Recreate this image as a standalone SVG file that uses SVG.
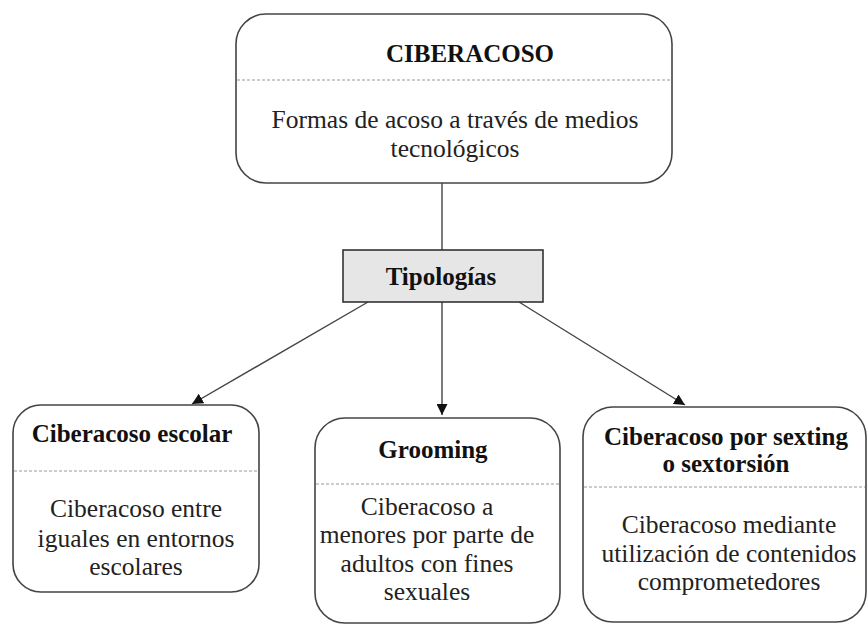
<svg xmlns="http://www.w3.org/2000/svg" width="868" height="625" viewBox="0 0 868 625">
<defs>
<style>
.box{fill:#fff;stroke:#444;stroke-width:1.6}
.tag{fill:#e6e6e6;stroke:#333;stroke-width:1.6}
.div{stroke:#999;stroke-width:1;stroke-dasharray:3 2;fill:none}
text{font-family:'Liberation Serif','DejaVu Serif','Times New Roman',serif;font-size:25.5px;fill:#222;text-anchor:middle}
.b{font-weight:bold;fill:#111;font-size:25px}
.ln{stroke:#444;stroke-width:1.4;fill:none}
</style>
<marker id="ah" viewBox="0 0 10 10" refX="10" refY="5" markerWidth="11" markerHeight="11" markerUnits="userSpaceOnUse" orient="auto">
<path d="M0,0 L10,5 L0,10 Z" fill="#111"/>
</marker>
</defs>
<rect width="868" height="625" fill="#fff"/>
<g id="connectors">
<line class="ln" x1="442" y1="183" x2="442" y2="250"/>
<line class="ln" x1="368" y1="302" x2="192" y2="404" marker-end="url(#ah)"/>
<line class="ln" x1="442" y1="302" x2="442" y2="415" marker-end="url(#ah)"/>
<line class="ln" x1="519" y1="302" x2="685" y2="405" marker-end="url(#ah)"/>
</g>
<g id="ciberacoso">
<rect class="box" x="236" y="14" width="436" height="169" rx="30"/>
<line class="div" x1="237" y1="80" x2="671" y2="80"/>
<text class="b" x="470" y="62">CIBERACOSO</text>
<text x="455" y="128">Formas de acoso a través de medios</text>
<text x="455" y="157">tecnológicos</text>
</g>
<g id="tipologias">
<rect class="tag" x="343" y="250" width="200" height="52"/>
<text class="b" x="441" y="285">Tipologías</text>
</g>
<g id="escolar">
<rect class="box" x="13" y="405" width="246" height="187" rx="28"/>
<line class="div" x1="14" y1="471" x2="258" y2="471"/>
<text class="b" x="132" y="442">Ciberacoso escolar</text>
<text x="136" y="517">Ciberacoso entre</text>
<text x="136" y="547">iguales en entornos</text>
<text x="136" y="575">escolares</text>
</g>
<g id="grooming">
<rect class="box" x="315" y="418" width="245" height="205" rx="30"/>
<line class="div" x1="316" y1="484" x2="559" y2="484"/>
<text class="b" x="433" y="458">Grooming</text>
<text x="427" y="515">Ciberacoso a</text>
<text x="427" y="543">menores por parte de</text>
<text x="427" y="572">adultos con fines</text>
<text x="427" y="600">sexuales</text>
</g>
<g id="sexting">
<rect class="box" x="583" y="407" width="283" height="215" rx="30"/>
<line class="div" x1="584" y1="487" x2="865" y2="487"/>
<text class="b" x="726" y="445">Ciberacoso por sexting</text>
<text class="b" x="726" y="472">o sextorsión</text>
<text x="729" y="533">Ciberacoso mediante</text>
<text x="729" y="562">utilización de contenidos</text>
<text x="729" y="590">comprometedores</text>
</g>
</svg>
